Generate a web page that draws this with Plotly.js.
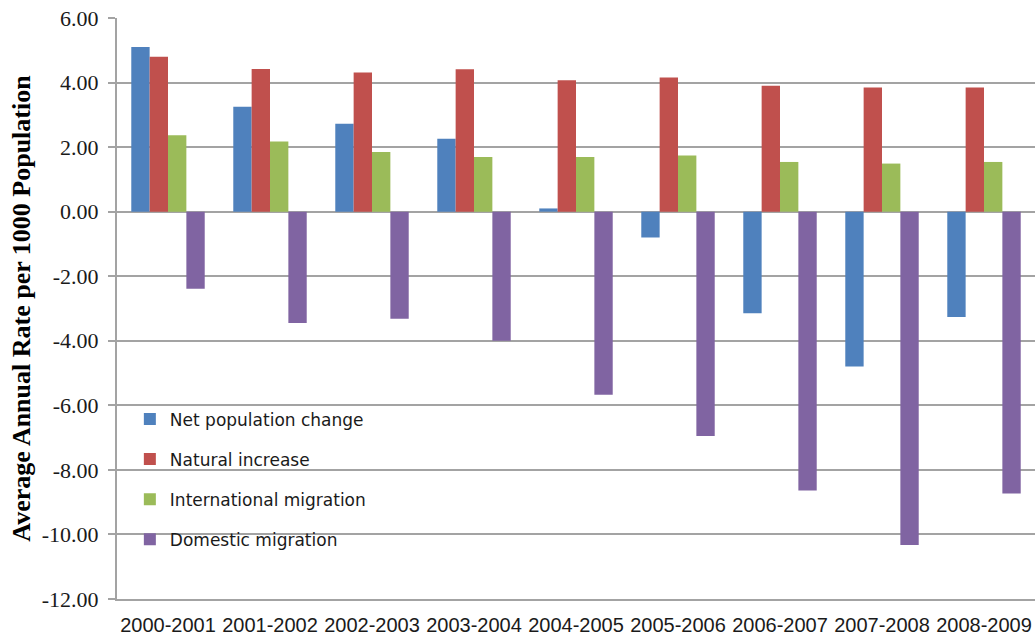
<!DOCTYPE html>
<html>
<head>
<meta charset="utf-8">
<script src="https://cdn.plot.ly/plotly-3.0.1.min.js"></script>
<style>
  html, body { margin: 0; padding: 0; background: #ffffff; overflow: hidden; }
  #chart { width: 1036px; height: 639px; }
</style>
</head>
<body>
<div id="chart"></div>
<script>
// Average annual components of population change, per 1000 population
const periods = ['2000-2001', '2001-2002', '2002-2003', '2003-2004', '2004-2005',
                 '2005-2006', '2006-2007', '2007-2008', '2008-2009'];
const netPopulationChange = [5.10, 3.25, 2.72, 2.26, 0.10, -0.80, -3.15, -4.80, -3.26];
const naturalIncrease = [4.80, 4.42, 4.31, 4.41, 4.07, 4.16, 3.90, 3.85, 3.85];
const internationalMigration = [2.37, 2.17, 1.85, 1.69, 1.69, 1.74, 1.54, 1.49, 1.54];
const domesticMigration = [-2.39, -3.45, -3.32, -4.00, -5.67, -6.95, -8.64, -10.33, -8.73];

const yTicks = [6, 4, 2, 0, -2, -4, -6, -8, -10, -12];
const yTickText = ['6.00', '4.00', '2.00', '0.00', '-2.00', '-4.00', '-6.00', '-8.00', '-10.00', '-12.00'];

const seriesNames = ['Net population change', 'Natural increase', 'International migration', 'Domestic migration'];
const seriesValues = [netPopulationChange, naturalIncrease, internationalMigration, domesticMigration];
const seriesColors = ['#4f81bd', '#c0504d', '#9bbb59', '#8064a2'];

const traces = seriesNames.map((name, i) => ({
  type: 'bar',
  name: name,
  x: periods,
  y: seriesValues[i],
  legendgroup: 'g' + i,
  marker: { color: seriesColors[i], line: { width: 0 } },
  hoverinfo: 'skip'
}));

const gridColor = '#a3a3a3';

const layout = {
  width: 1036,
  height: 639,
  margin: { l: 117, r: 1, t: 18, b: 40, pad: 0 },
  paper_bgcolor: '#ffffff',
  plot_bgcolor: '#ffffff',
  barmode: 'group',
  bargap: 0.28,
  bargroupgap: 0,
  showlegend: true,
  legend: {
    x: 0.014, xanchor: 'left',
    y: 0.340, yanchor: 'top',
    bgcolor: 'rgba(0,0,0,0)',
    borderwidth: 0,
    tracegroupgap: 15,
    font: { family: 'DejaVu Sans', size: 17, color: '#1a1a1a' }
  },
  xaxis: {
    type: 'category',
    showgrid: false,
    zeroline: false,
    showline: true,
    linecolor: gridColor,
    linewidth: 2,
    ticks: '',
    ticklabelstandoff: 7,
    tickfont: { family: 'Liberation Sans', size: 20, color: '#1a1a1a' },
    fixedrange: true
  },
  yaxis: {
    range: [-12, 6],
    tickvals: yTicks,
    ticktext: yTickText,
    showgrid: true,
    gridcolor: gridColor,
    gridwidth: 2,
    zeroline: true,
    zerolinecolor: gridColor,
    zerolinewidth: 2,
    showline: true,
    linecolor: gridColor,
    linewidth: 2,
    ticks: 'outside',
    ticklen: 7,
    tickwidth: 2,
    tickcolor: gridColor,
    ticklabelstandoff: 5,
    tickfont: { family: 'Liberation Serif', size: 22, color: '#1a1a1a' },
    title: {
      text: 'Average Annual Rate per 1000 Population',
      font: { family: 'Liberation Serif', size: 26, color: '#000000', weight: 'bold' },
      standoff: 4
    },
    fixedrange: true
  }
};

Plotly.newPlot('chart', traces, layout, { displayModeBar: false, staticPlot: true });
</script>
</body>
</html>
